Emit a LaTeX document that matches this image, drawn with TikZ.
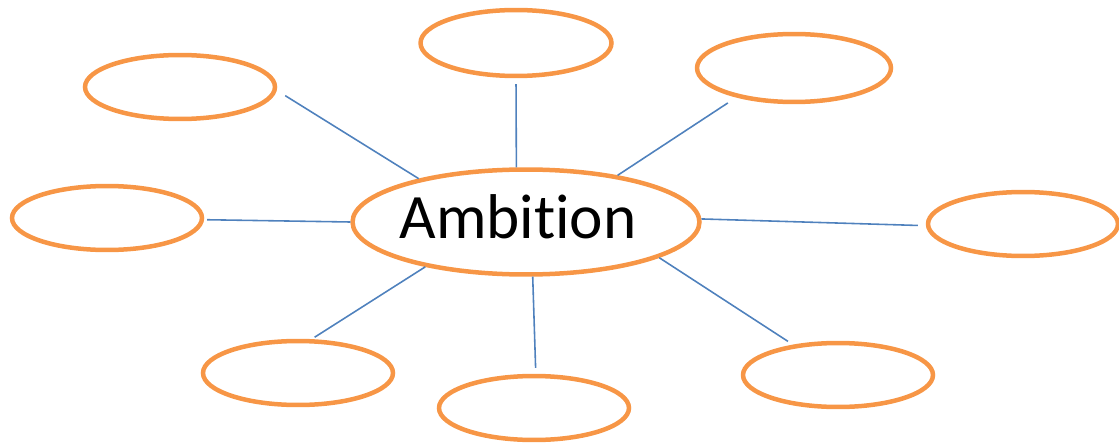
\documentclass[tikz,border=0pt]{standalone}
\usepackage{fontspec}
\setsansfont[Ligatures=NoCommon]{Carlito}
\usepackage{xcolor}
\usetikzlibrary{shapes.geometric}
\definecolor{bubble}{RGB}{247, 150, 70}
\definecolor{spoke}{RGB}{79, 129, 189}

\begin{document}
\begin{tikzpicture}[x=0.02cm,y=-0.02cm,
    idea/.style={ellipse,draw=bubble,line width=0.09cm,inner sep=0pt,minimum width=3.8cm,minimum height=1.28cm},
    hubnode/.style={idea,minimum width=6.94cm,minimum height=2.1cm},
    word/.style={font=\sffamily\fontsize{36}{40}\selectfont,inner sep=0pt},
    link/.style={draw=spoke,line width=0.9pt}]
  \useasboundingbox (0,0) rectangle (1119,446);
  \node[hubnode,label={[word,xshift=-0.16cm,yshift=0.1cm]center:Ambition}] (hub) at (526,222) {};
  \node[idea] (tl) at (180,87) {};
  \node[idea,minimum width=3.82cm,minimum height=1.32cm] (top) at (516,43) {};
  \node[idea,minimum width=3.88cm,minimum height=1.36cm] (tr) at (794,68) {};
  \node[idea] (left) at (107,218) {};
  \node[idea] (right) at (1023,224) {};
  \node[idea] (bl) at (298,373) {};
  \node[idea] (bottom) at (534,408) {};
  \node[idea] (br) at (838,375) {};
  \path[link]
    (tl.-2) edge [shorten <=0.2cm] (hub.158)
    (top.-90) edge [shorten <=0.12cm] (hub.100)
    (tr.207) edge [shorten <=0.2cm] (hub.27)
    (left.-1) edge [shorten <=0.06cm] (hub.180)
    (right.181) edge [shorten <=0.16cm] (hub.1)
    (bl.68) edge [shorten <=0.07cm] (hub.204)
    (bottom.87) edge [shorten <=0.12cm] (hub.-83)
    (br.146) edge [shorten <=0.12cm] (hub.-15);
\end{tikzpicture}
\end{document}
